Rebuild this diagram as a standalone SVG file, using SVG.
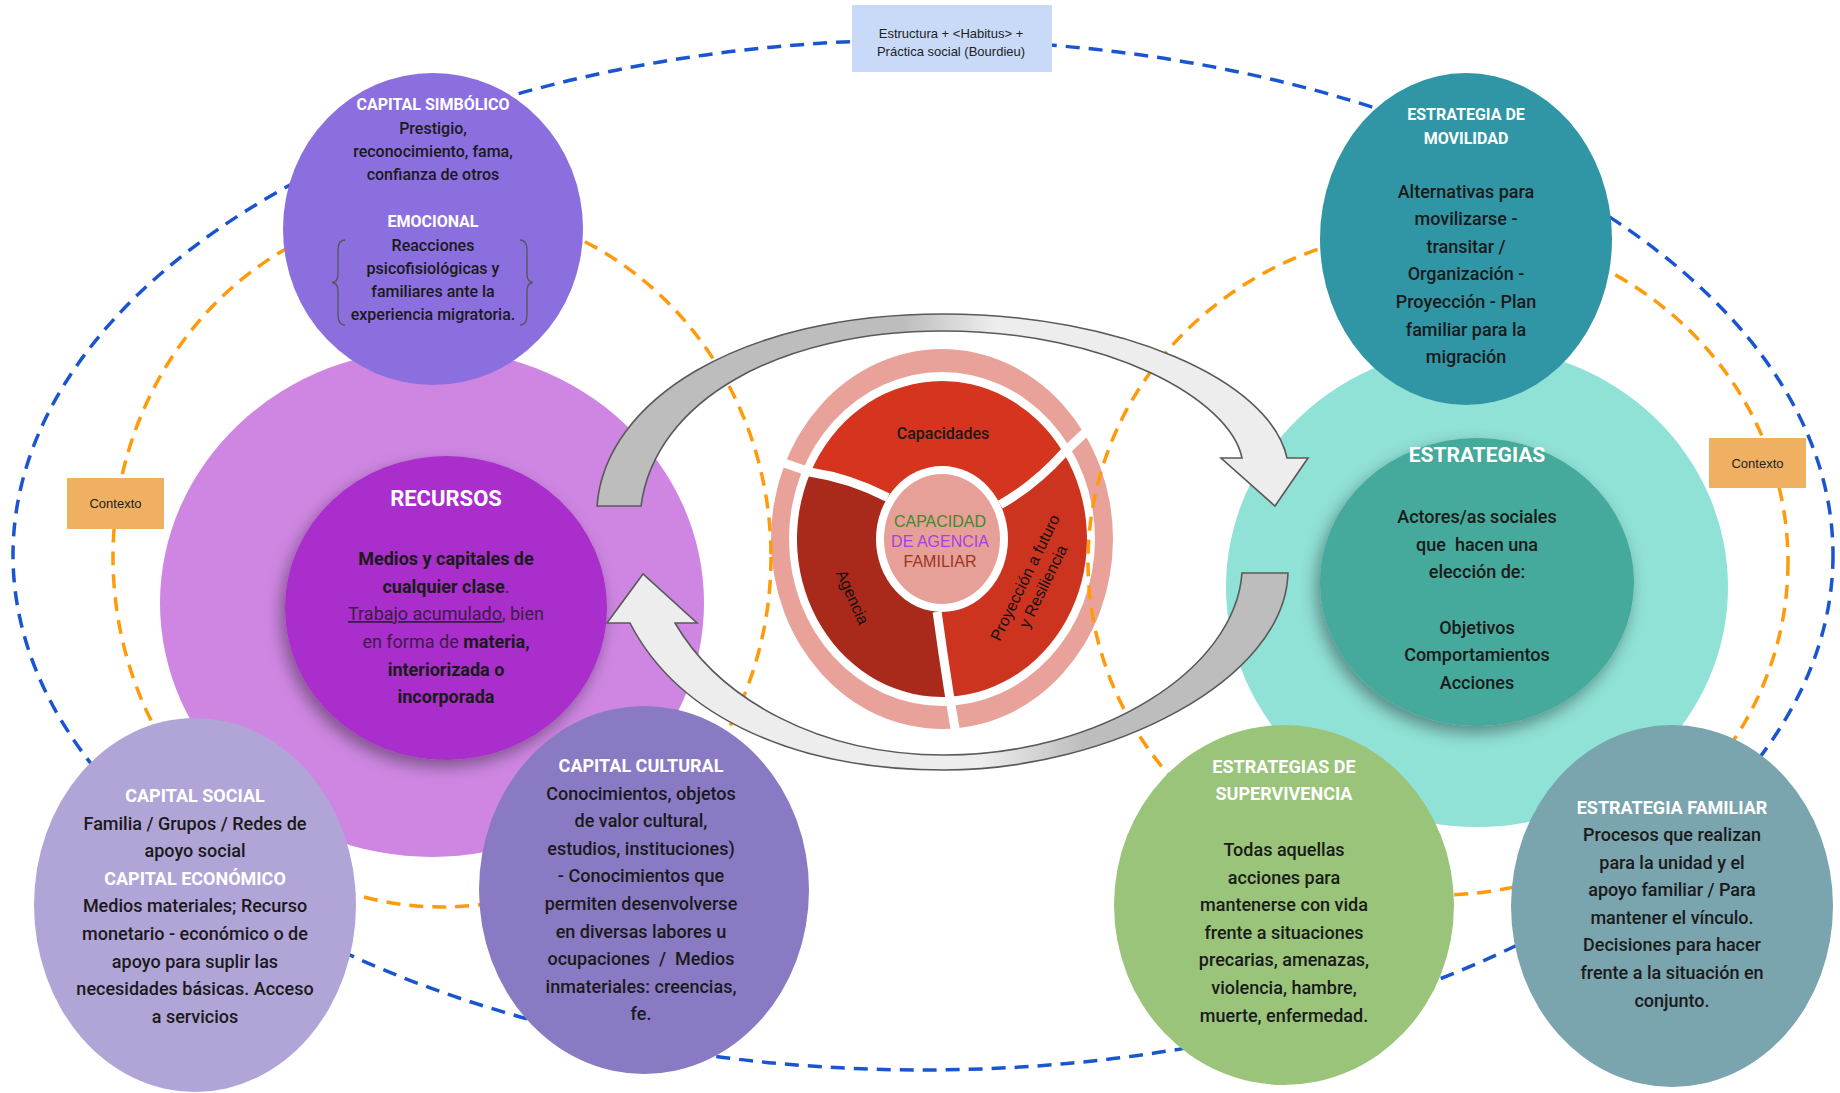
<svg xmlns="http://www.w3.org/2000/svg" width="1840" height="1093" viewBox="0 0 1840 1093">
<style>
.t{font-family:Roboto,"Noto Sans","Liberation Sans",sans-serif;text-anchor:middle}
.ttl{fill:#fff;font-weight:700;font-size:18px}
.b{fill:#1a1a1a;font-weight:500;font-size:18px}
.s16{font-size:16px}
.bd{font-weight:700}
.rg{font-weight:400;fill:#3a1d46}
.blue{fill:none;stroke:#1a55d0;stroke-width:3.5;stroke-dasharray:14 9}
.org{fill:none;stroke:#ff9a0a;stroke-width:3.5;stroke-dasharray:14 9}
.arr{stroke:#595959;stroke-width:1.6;stroke-linejoin:miter}
.lbl{font-family:"Liberation Sans",Arial,sans-serif;fill:#222;text-anchor:middle}
.div{fill:none;stroke:#fff;stroke-width:9}
</style>
<defs>
<filter id="sh" x="-25%" y="-25%" width="150%" height="150%">
<feDropShadow dx="-4" dy="7" stdDeviation="8" flood-color="#000" flood-opacity="0.38"/>
</filter>
<linearGradient id="gTop" gradientUnits="userSpaceOnUse" x1="597" y1="0" x2="1308" y2="0">
<stop offset="0" stop-color="#bdbdbd"/><stop offset="0.43" stop-color="#bdbdbd"/><stop offset="0.56" stop-color="#ededed"/><stop offset="1" stop-color="#ededed"/>
</linearGradient>
<linearGradient id="gBot" gradientUnits="userSpaceOnUse" x1="1288" y1="0" x2="607" y2="0">
<stop offset="0" stop-color="#bdbdbd"/><stop offset="0.3" stop-color="#bdbdbd"/><stop offset="0.45" stop-color="#ededed"/><stop offset="1" stop-color="#ededed"/>
</linearGradient>
</defs>
<rect width="1840" height="1093" fill="#fff"/>

<g id="connectors-outer">
<ellipse class="blue" cx="923" cy="555" rx="910" ry="515"/>
</g>

<g id="capacidad-agencia">
<ellipse cx="942" cy="539" rx="171" ry="190" fill="#e8a29a"/>
<ellipse cx="942" cy="539" rx="153" ry="167" fill="#fff"/>
<path d="M942,539 L887.7,497.5 Q850,478 810.6,472.2 A145 158 0 0 1 1063.6,453 Q1035,485 1000.2,504.6 Z" fill="#d5341f"/>
<path d="M942,539 L1000.2,504.6 Q1035,485 1063.6,453 A145 158 0 0 1 949.6,696.8 Q943,655 937.1,611.8 Z" fill="#cc3420"/>
<path d="M942,539 L937.1,611.8 Q943,655 949.6,696.8 A145 158 0 0 1 810.6,472.2 Q850,478 887.7,497.5 Z" fill="#a9291b"/>
<ellipse cx="942" cy="539" rx="66" ry="73" fill="#fff"/>
<ellipse cx="942" cy="539" rx="58" ry="65" fill="#e6a097"/>
<path class="div" d="M887.7,497.5 Q850,478 810.6,472.2 L764,456"/>
<path class="div" d="M1000.2,504.6 Q1035,485 1063.6,453 L1094,424"/>
<path class="div" d="M937.1,611.8 Q943,655 949.6,696.8 L957,740"/>
<text class="t" x="943" y="439" style="font-size:16px;font-weight:500;fill:#1a1a1a">Capacidades</text>
<text class="lbl" transform="translate(853,597) rotate(66)" y="6" style="font-size:16px;fill:#111">Agencia</text>
<g transform="translate(1034,582) rotate(-64)">
<text class="lbl" y="-4.5" style="font-size:16px;fill:#111">Proyección a futuro</text>
<text class="lbl" y="15.5" style="font-size:16px;fill:#111">y Resiliencia</text>
</g>
<text class="lbl" x="940" y="527" style="font-size:16px;fill:#3f8a2a">CAPACIDAD</text>
<text class="lbl" x="940" y="547" style="font-size:16px;fill:#a93fe0">DE AGENCIA</text>
<text class="lbl" x="940" y="567" style="font-size:16px;fill:#9c3526">FAMILIAR</text>
</g>

<g id="connectors-context">
<ellipse class="org" cx="442" cy="557" rx="329" ry="350"/>
<ellipse class="org" cx="1438" cy="562" rx="350" ry="333"/>
</g>

<g id="recursos">
<ellipse cx="432" cy="603" rx="272" ry="254" fill="#ce86e2"/>
<ellipse cx="446" cy="608" rx="161" ry="152" fill="#aa2ecb" filter="url(#sh)"/>
<text class="t ttl" x="446" y="506" style="font-size:22px">RECURSOS</text>
<text class="t b bd" x="446" y="565">Medios y capitales de</text>
<text class="t b" x="446" y="593"><tspan class="bd">cualquier clase</tspan><tspan class="rg">.</tspan></text>
<text class="t b rg" x="446" y="620"><tspan text-decoration="underline">Trabajo acumulado</tspan>, bien</text>
<text class="t b" x="446" y="648"><tspan class="rg">en forma de </tspan><tspan class="bd">materia,</tspan></text>
<text class="t b bd" x="446" y="676">interiorizada o</text>
<text class="t b bd" x="446" y="703">incorporada</text>
</g>

<g id="capital-simbolico">
<ellipse cx="433" cy="229" rx="150" ry="156" fill="#8b6fdf"/>
<text class="t ttl s16" x="433" y="110">CAPITAL SIMBÓLICO</text>
<text class="t b s16" x="433" y="134">Prestigio,</text>
<text class="t b s16" x="433" y="157">reconocimiento, fama,</text>
<text class="t b s16" x="433" y="180">confianza de otros</text>
<text class="t ttl s16" x="433" y="227">EMOCIONAL</text>
<text class="t b s16" x="433" y="251">Reacciones</text>
<text class="t b s16" x="433" y="274">psicofisiológicas y</text>
<text class="t b s16" x="433" y="297">familiares ante la</text>
<text class="t b s16" x="433" y="320">experiencia migratoria.</text>
<path d="M345,240 Q338,240 338,250 L338,274 Q338,282 332,282.5 Q338,283 338,291 L338,315 Q338,325 345,325" fill="none" stroke="#555" stroke-width="1.3"/>
<path d="M520,240 Q527,240 527,250 L527,274 Q527,282 533,282.5 Q527,283 527,291 L527,315 Q527,325 520,325" fill="none" stroke="#555" stroke-width="1.3"/>
</g>

<g id="capital-social">
<ellipse cx="195" cy="905" rx="161" ry="187" fill="#b1a5d8"/>
<text class="t ttl" x="195" y="802">CAPITAL SOCIAL</text>
<text class="t b" x="195" y="829.6">Familia / Grupos / Redes de</text>
<text class="t b" x="195" y="857.2">apoyo social</text>
<text class="t ttl" x="195" y="884.8">CAPITAL ECONÓMICO</text>
<text class="t b" x="195" y="912.4">Medios materiales; Recurso</text>
<text class="t b" x="195" y="940">monetario - económico o de</text>
<text class="t b" x="195" y="967.6">apoyo para suplir las</text>
<text class="t b" x="195" y="995.2">necesidades básicas. Acceso</text>
<text class="t b" x="195" y="1022.8">a servicios</text>
</g>

<g id="capital-cultural">
<ellipse cx="644" cy="890" rx="165" ry="184" fill="#8a7ac4"/>
<text class="t ttl" x="641" y="772">CAPITAL CULTURAL</text>
<text class="t b" x="641" y="799.6">Conocimientos, objetos</text>
<text class="t b" x="641" y="827.2">de valor cultural,</text>
<text class="t b" x="641" y="854.8">estudios, instituciones)</text>
<text class="t b" x="641" y="882.4">- Conocimientos que</text>
<text class="t b" x="641" y="910">permiten desenvolverse</text>
<text class="t b" x="641" y="937.6">en diversas labores u</text>
<text class="t b" x="641" y="965.2" xml:space="preserve">ocupaciones  /  Medios</text>
<text class="t b" x="641" y="992.8">inmateriales: creencias,</text>
<text class="t b" x="641" y="1020.4">fe.</text>
</g>

<g id="estrategias">
<ellipse cx="1477" cy="587" rx="251" ry="240" fill="#90e1d6"/>
<ellipse cx="1477" cy="582" rx="157" ry="144" fill="#45a99b" filter="url(#sh)"/>
<text class="t ttl" x="1477" y="462" style="font-size:21px">ESTRATEGIAS</text>
<text class="t b" x="1477" y="523">Actores/as sociales</text>
<text class="t b" x="1477" y="550.7" xml:space="preserve">que  hacen una</text>
<text class="t b" x="1477" y="578.3">elección de:</text>
<text class="t b" x="1477" y="633.5">Objetivos</text>
<text class="t b" x="1477" y="661.2">Comportamientos</text>
<text class="t b" x="1477" y="688.8">Acciones</text>
</g>

<g id="estrategia-movilidad">
<ellipse cx="1466" cy="239" rx="146" ry="166" fill="#3096a6"/>
<text class="t ttl s16" x="1466" y="120">ESTRATEGIA DE</text>
<text class="t ttl s16" x="1466" y="143.5">MOVILIDAD</text>
<text class="t b" x="1466" y="197.5">Alternativas para</text>
<text class="t b" x="1466" y="225.2">movilizarse -</text>
<text class="t b" x="1466" y="252.8">transitar /</text>
<text class="t b" x="1466" y="280.4">Organización -</text>
<text class="t b" x="1466" y="308">Proyección - Plan</text>
<text class="t b" x="1466" y="335.7">familiar para la</text>
<text class="t b" x="1466" y="363.3">migración</text>
</g>

<g id="estrategias-supervivencia">
<ellipse cx="1284" cy="905" rx="170" ry="180" fill="#99c479"/>
<text class="t ttl" x="1284" y="773">ESTRATEGIAS DE</text>
<text class="t ttl" x="1284" y="800">SUPERVIVENCIA</text>
<text class="t b" x="1284" y="856">Todas aquellas</text>
<text class="t b" x="1284" y="883.6">acciones para</text>
<text class="t b" x="1284" y="911.2">mantenerse con vida</text>
<text class="t b" x="1284" y="938.8">frente a situaciones</text>
<text class="t b" x="1284" y="966.4">precarias, amenazas,</text>
<text class="t b" x="1284" y="994">violencia, hambre,</text>
<text class="t b" x="1284" y="1021.6">muerte, enfermedad.</text>
</g>

<g id="estrategia-familiar">
<ellipse cx="1672" cy="906" rx="161" ry="181" fill="#7aa4ae"/>
<text class="t ttl" x="1672" y="813.5">ESTRATEGIA FAMILIAR</text>
<text class="t b" x="1672" y="841">Procesos que realizan</text>
<text class="t b" x="1672" y="868.6">para la unidad y el</text>
<text class="t b" x="1672" y="896.2">apoyo familiar / Para</text>
<text class="t b" x="1672" y="923.8">mantener el vínculo.</text>
<text class="t b" x="1672" y="951.4">Decisiones para hacer</text>
<text class="t b" x="1672" y="979">frente a la situación en</text>
<text class="t b" x="1672" y="1006.6">conjunto.</text>
</g>

<g id="connectors">
<path class="arr" fill="url(#gTop)" d="M597,506 C605,400 740,314 943,314 C1120,314 1270,380 1287,458 L1308,458 L1275,506 L1221,458 L1242,458 C1230,400 1110,331 943,331 C780,331 655,400 641,506 Z"/>
<path class="arr" fill="url(#gBot)" d="M1242,573 L1288,573 C1285,680 1110,770 944,770 C800,770 680,720 630,623 L607,623 L643,574 L697,623 L675,623 C720,700 820,755 944,755 C1100,755 1235,670 1242,573 Z"/>
</g>

<g id="habitus">
<rect x="852" y="5" width="200" height="67" fill="#c9daf8"/>
<text class="lbl" x="951" y="38" style="font-size:13px">Estructura + &lt;Habitus&gt; +</text>
<text class="lbl" x="951" y="56" style="font-size:13px">Práctica social (Bourdieu)</text>
</g>
<g id="contexto-izq">
<rect x="67" y="478" width="97" height="51" fill="#efb062"/>
<text class="lbl" x="115.5" y="508" style="font-size:13px">Contexto</text>
</g>
<g id="contexto-der">
<rect x="1709" y="438" width="97" height="50" fill="#efb062"/>
<text class="lbl" x="1757.5" y="468" style="font-size:13px">Contexto</text>
</g>
</svg>
